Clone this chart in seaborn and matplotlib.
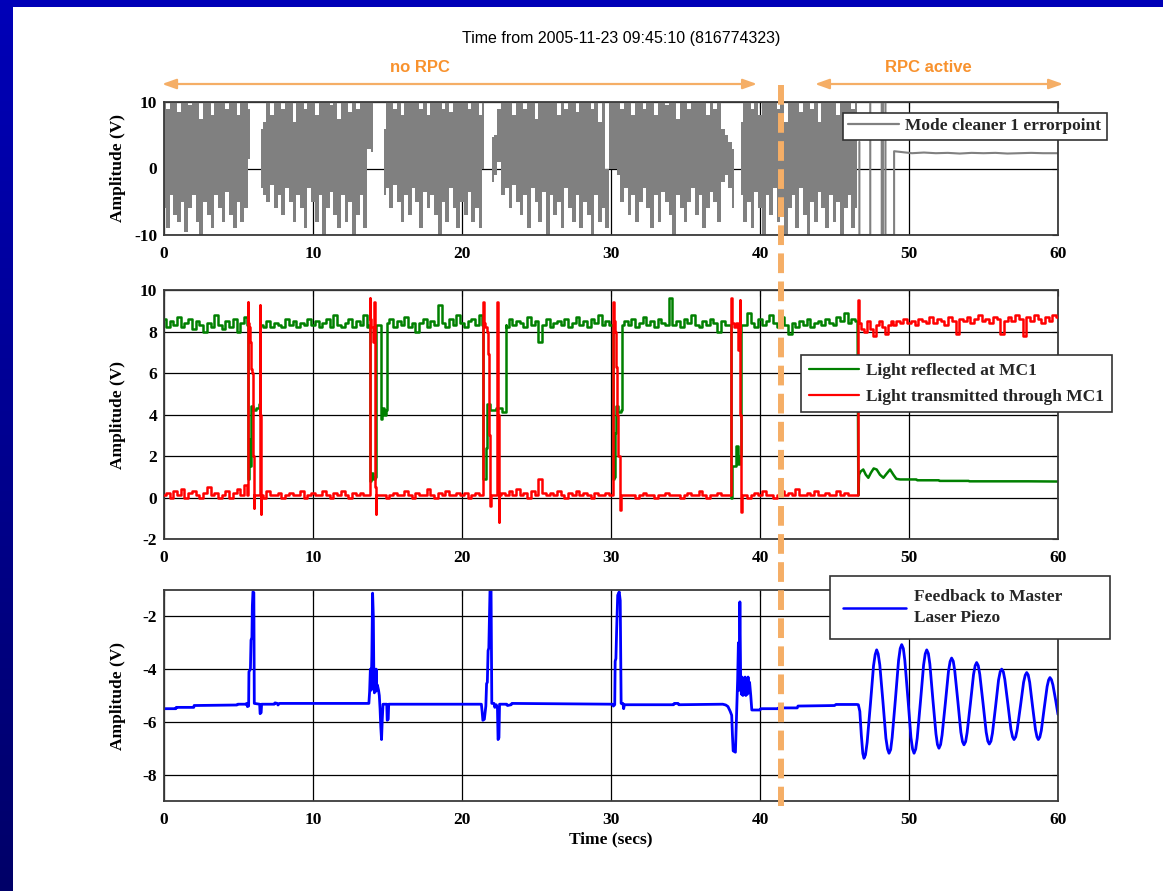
import numpy as np
import matplotlib
matplotlib.use("Agg")
import matplotlib.pyplot as plt
import seaborn as sns
from matplotlib.lines import Line2D
from matplotlib.patches import Rectangle
from matplotlib.colors import LinearSegmentedColormap
from matplotlib.transforms import blended_transform_factory

nan = np.nan

# ---------------------------------------------------------------- data
time_ticks = [0, 10, 20, 30, 40, 50, 60]
top_yticks = [-10, 0, 10]
mid_yticks = [-2, 0, 2, 4, 6, 8, 10]
bot_yticks = [-8, -6, -4, -2]

title_text = "Time from 2005-11-23 09:45:10 (816774323)"
label_mc = "Mode cleaner 1 errorpoint"
label_refl = "Light reflected at MC1"
label_trans = "Light transmitted through MC1"
label_fb = "Feedback to Master\nLaser Piezo"

# Mode-cleaner error point: upper / lower envelope every 0.25 s, 0 .. 46.5 s
sample_step = 0.25
mc_hi = [10, 9, 10, 10, 8.5, 10, 10, 9.5, 10, 10, 7.5, 10, 10, 8, 10, 10,
         10, 9, 10, 10, 8, 10, 10, 9, nan, nan, 6, 7, 10, 8, 10, 10,
         9, 10, 10, 7, 10, 10, 9, 10, 10, 8, 10, 10, 10, 9.5, 10, 7.5,
         10, 10, 8.5, 10, 9, 10, 10, 10, 10, nan, nan, 6, 10, 10, 9, 10,
         8, 10, 10, 10, 10, 9, 10, 8, 10, 10, 10, 9, 10, 8.5, 10, 10,
         10, 10, 9, 10, 10, 8, 10, nan, 4.8, 5, 9, 10, 10, 10, 8, 10,
         10, 9, 10, 10, 7.5, 10, 10, 10, 10, 10, 8, 10, 9, 10, 10, 8.5,
         10, 10, 10, 9, 10, 7, 10, 0, 10, 10, 10, 9, 10, 10, 8, 10,
         10, 9, 10, 10, 8, 10, 10, 9.5, 10, 10, 7.5, 10, 10, 9, 10, 10,
         10, 10, 8, 10, 9, 10, 6, 5, 4, 3, nan, 7, 10, 10, 9, 10,
         8, 10, 10, 10, 10, 9, 10, 7, 10, 10, 10, 8.5, 10, 10, 9, 10,
         7, 10, 10, 10, 10, 8, 10, 10, 10, 9, 10]
mc_lo = [-6, -9, -4, -7, -8, -5, -9.5, -6, -4, -8, -10, -5, -7, -9, -4, -6,
         -8, -3.5, -7, -9, -5, -8, -6, 1.5, nan, nan, -3, -4, -5, -2.5, -6, -4,
         -7, -3, -5, -8, -4, -6, -9, -3, -5, -8, -4, -10, -6, -3.5, -7, -9,
         -4, -8, -5, -10, -7, -4, -9, 3, 2.5, nan, nan, -4, -3, -6, -2.5, -5,
         -8, -4, -7, -3, -5, -9, -3.5, -6, -4, -7, -10, -5, -8, -3, -6, -9,
         -5, -7, -3.5, -8, -6, -9, 0, nan, -2, -1, 1, -4, -3, -6, -2.5, -5,
         -7, -4, -9, -3, -5, -8, -3.5, -10, -4, -7, -5, -9, -3, -6, -8, -4,
         -9, -5, -7, -10, -4, -8, -6, -9, 0, 0, -1, -5, -3, -7, -4, -8,
         -5, -3, -6, -9, -4, -8, -3.5, -5, -7, -10, -4, -6, -8, -5, -3, -7,
         -4, -9, -6, -3.5, -5, -8, -2, -1, -3, -6, nan, -4, -8, -5, -9, -3.5,
         -6, -10, -4, -7, -3, -8, -5, -10, -6, -4, -9, -3, -7, -10, -5, -8,
         -3.5, -6, -9, -4, -8, -5, -10, -6, -4, -9, -6]
mc_tail_t = [46.67, 46.67, 47.4, 47.4, 48.17, 48.17, 48.25, 48.25, 48.42, 48.42,
             49.0, 49.0, 49.4, 50.2, 51.0, 51.8, 52.6, 53.4, 54.2, 55.0, 55.8,
             56.6, 57.4, 58.2, 59.0, 60.0]
mc_tail_v = [4, -10, -10, 10, 10, -10, -10, 10, 10, -10,
             -10, 2.6, 2.5, 2.3, 2.4, 2.3, 2.35, 2.25, 2.35, 2.3, 2.35,
             2.25, 2.3, 2.35, 2.3, 2.3]

# Reflected light (green): locked-state level every 0.25 s, 0 .. 46.5 s
refl_noise = [8.6, 8.2, 8.5, 8.3, 8.7, 8.2, 8.4, 8.6, 8.1, 8.5, 8.3, 8.0, 8.4, 8.2, 8.8, 8.3,
              8.1, 8.5, 8.2, 8.6, 8.0, 8.4, 8.7, 8.3, 8.3, 8.2, 8.4, 8.2, 8.5, 8.2, 8.4, 8.3,
              8.2, 8.6, 8.3, 8.5, 8.2, 8.4, 8.3, 8.6, 8.3, 8.5, 8.2, 8.4, 8.6, 8.2, 8.8, 8.3,
              8.2, 8.4, 8.6, 8.2, 8.5, 8.3, 8.8, 8.2, 8.3, 8.5, 8.4, 8.2, 8.4, 8.6, 8.2, 8.5,
              8.3, 8.7, 8.2, 8.4, 8.0, 8.4, 8.6, 8.2, 8.5, 8.3, 9.3, 8.4, 8.2, 8.6, 8.3, 8.8,
              8.4, 8.2, 8.5, 8.6, 8.3, 8.8, 8.4, 8.5, 8.3, 8.2, 8.5, 8.4, 8.2, 8.6, 8.3, 8.5,
              8.4, 8.2, 8.7, 8.3, 8.5, 7.5, 8.3, 8.6, 8.2, 8.4, 8.5, 8.3, 8.6, 8.2, 8.4, 8.7,
              8.3, 8.5, 8.2, 8.6, 8.4, 8.8, 8.3, 8.5, 8.3, 8.2, 8.4, 8.3, 8.5, 8.3, 8.6, 8.2,
              8.4, 8.7, 8.3, 8.5, 8.2, 8.6, 8.4, 8.3, 9.6, 8.3, 8.5, 8.2, 8.6, 8.4, 8.8, 8.3,
              8.2, 8.5, 8.3, 8.6, 8.4, 8.0, 8.5, 8.3, 8.3, 8.6, 8.2, 8.4, 8.3, 8.9, 8.4, 8.2,
              8.6, 8.3, 8.5, 8.8, 8.4, 8.2, 8.7, 8.3, 7.9, 8.4, 8.2, 8.5, 8.3, 8.6, 8.2, 8.4,
              8.5, 8.3, 8.6, 8.4, 8.3, 8.7, 8.5, 8.9, 8.4, 8.6, 8.5]
# Transmitted light (red): unlocked-state level every 0.25 s, 0 .. 46.5 s
trans_noise = [0.1, 0.2, 0.0, 0.3, 0.1, 0.4, 0.0, 0.2, 0.3, 0.1, 0.0, 0.2, 0.5, 0.1, 0.2, 0.0,
               0.1, 0.3, 0.0, 0.2, 0.4, 0.1, 0.6, 0.2, 0.1, 0.2, 0.1, 0.0, 0.3, 0.1, 0.1, 0.2,
               0.0, 0.1, 0.2, 0.1, 0.1, 0.3, 0.0, 0.1, 0.2, 0.1, 0.1, 0.3, 0.1, 0.0, 0.2, 0.1,
               0.3, 0.1, 0.0, 0.2, 0.1, 0.2, 0.1, 0.1, 0.1, 0.1, 0.1, 0.1, 0.0, 0.1, 0.2, 0.1,
               0.1, 0.3, 0.1, 0.0, 0.2, 0.1, 0.1, 0.4, 0.1, 0.0, 0.2, 0.1, 0.3, 0.1, 0.1, 0.2,
               0.1, 0.2, 0.0, 0.1, 0.2, 0.1, 0.1, 0.1, 0.1, 0.1, 0.1, 0.2, 0.1, 0.3, 0.1, 0.4,
               0.1, 0.2, 0.0, 0.3, 0.1, 0.9, 0.2, 0.1, 0.2, 0.1, 0.3, 0.1, 0.0, 0.2, 0.1, 0.3,
               0.1, 0.2, 0.1, 0.0, 0.2, 0.1, 0.1, 0.2, 0.1, 0.1, 0.1, 0.1, 0.1, 0.1, 0.1, 0.0,
               0.1, 0.2, 0.1, 0.1, 0.0, 0.1, 0.1, 0.2, 0.1, 0.1, 0.1, 0.0, 0.1, 0.2, 0.1, 0.1,
               0.3, 0.1, 0.0, 0.1, 0.1, 0.2, 0.1, 0.1, 0.1, 0.1, 0.1, 0.1, 0.1, 0.0, 0.1, 0.2,
               0.1, 0.3, 0.1, 0.1, 0.0, 0.1, 0.3, 0.1, 0.2, 0.1, 0.4, 0.1, 0.1, 0.2, 0.1, 0.3,
               0.1, 0.1, 0.2, 0.1, 0.1, 0.3, 0.1, 0.2, 0.1, 0.1, 0.1]
# Transmitted light once RPC is active, every 0.25 s from 49.0 s to 60 s
trans_locked_start = 49.0
trans_locked = [8.3, 8.5, 8.4, 8.6, 8.4, 8.5, 8.3, 8.6, 8.5, 8.4, 8.7, 8.4,
                8.6, 8.5, 8.3, 8.7, 8.5, 7.9, 8.6, 8.5, 8.7, 8.4, 8.6, 8.8,
                8.5, 8.6, 8.4, 8.7, 8.6, 7.9, 8.5, 8.7, 8.5, 8.8, 8.6, 7.8,
                8.7, 8.5, 8.8, 8.6, 8.4, 8.7, 8.5, 8.8, 8.7]

# Unlock events (green = reflected, red = transmitted)
ev1_refl_t = [5.60, 5.63, 5.70, 5.75, 5.80, 5.90, 6.10, 6.30, 6.40, 6.42, 6.55]
ev1_refl_v = [8.3, 1.0, 0.9, 2.8, 1.5, 4.4, 4.2, 4.3, 4.5, 8.3, 8.3]
ev1_trans_t = [5.60, 5.62, 5.66, 5.75, 5.80, 5.88, 5.95, 6.00, 6.04, 6.08, 6.42, 6.44, 6.48, 6.51, 6.55]
ev1_trans_v = [0.1, 9.4, 8.4, 8.2, 7.5, 6.2, 6.0, 2.0, -0.5, 0.1, 0.1, 9.3, 4.0, -0.8, 0.1]

ev2_refl_t = [13.80, 13.83, 13.95, 14.10, 14.20, 14.25, 14.58, 14.61, 14.70, 14.85, 14.94, 14.97]
ev2_refl_v = [8.3, 0.8, 1.2, 0.9, 1.0, 8.3, 8.3, 3.8, 4.3, 4.0, 4.2, 8.3]
ev2_trans_t = [13.80, 13.83, 13.88, 13.95, 14.05, 14.12, 14.17, 14.20, 14.23, 14.27]
ev2_trans_v = [0.1, 9.6, 8.6, 8.2, 7.5, 9.4, 6.0, 0.5, -0.8, 0.1]

ev3_refl_t = [21.40, 21.45, 21.55, 21.62, 21.70, 22.00, 22.50, 22.90, 22.97]
ev3_refl_v = [8.3, 0.9, 0.9, 2.4, 4.5, 4.2, 4.3, 4.1, 8.3]
ev3_trans_t = [21.40, 21.43, 21.50, 21.60, 21.70, 21.78, 21.85, 21.92, 21.97, 22.34, 22.37, 22.42, 22.48, 22.52]
ev3_trans_v = [0.1, 9.4, 8.4, 8.2, 8.0, 6.9, 3.0, -0.4, 0.1, 0.1, 9.4, 4.0, -1.2, 0.1]

ev4_refl_t = [30.13, 30.16, 30.25, 30.32, 30.40, 30.60, 30.75, 30.78]
ev4_refl_v = [8.3, 0.9, 1.0, 3.1, 4.4, 4.1, 4.2, 8.3]
ev4_trans_t = [30.13, 30.16, 30.22, 30.30, 30.38, 30.45, 30.55, 30.62, 30.67]
ev4_trans_v = [0.1, 9.4, 8.5, 8.0, 6.3, 4.0, 2.0, -0.6, 0.1]

ev5_refl_t = [38.07, 38.10, 38.15, 38.30, 38.45, 38.55, 38.70, 38.77]
ev5_refl_v = [8.3, 0.0, 1.5, 1.5, 2.5, 1.6, 2.0, 8.3]
ev5_trans_t = [38.07, 38.10, 38.15, 38.30, 38.50, 38.54, 38.60, 38.66, 38.70, 38.75, 38.80]
ev5_trans_v = [0.1, 9.6, 8.4, 8.2, 8.4, 7.1, 8.0, 9.5, 4.0, -0.7, 0.1]

# RPC switched on
rpc_refl_t = [46.55, 46.60, 46.65, 46.75, 46.93, 47.10, 47.27, 47.45, 47.63, 47.83, 48.05,
              48.28, 48.50, 48.73, 48.95, 49.15, 49.40, 50.50, 50.55, 52.0, 52.05, 54.0,
              54.05, 56.0, 58.0, 60.0]
rpc_refl_v = [8.4, 0.1, 1.1, 1.25, 1.35, 1.1, 0.95, 1.2, 1.4, 1.35, 1.1,
              0.95, 1.15, 1.35, 1.1, 0.9, 0.87, 0.87, 0.83, 0.83, 0.8, 0.8,
              0.78, 0.78, 0.78, 0.77]
rpc_trans_t = [46.55, 46.60, 46.70, 46.90, 47.10, 47.30, 47.50, 47.70, 47.90, 48.10, 48.30, 48.50, 48.70, 48.90]
rpc_trans_v = [0.1, 9.5, 8.4, 8.1, 8.0, 8.5, 8.1, 7.8, 8.3, 8.5, 8.2, 7.9, 8.3, 8.5]

# Feedback to master laser piezo (blue)
fb_t = [0.0, 0.8, 0.82, 2.0, 2.02, 4.9, 4.95,
        5.5, 5.55, 5.60, 5.68, 5.70, 5.80, 5.84, 5.90, 5.93, 5.97, 6.03, 6.06, 6.42, 6.45, 6.52, 6.55,
        7.4, 7.45, 7.6, 7.65, 7.75,
        13.75, 13.80, 13.85, 13.90, 13.95, 14.00, 14.05, 14.08, 14.12, 14.16, 14.20, 14.24, 14.28,
        14.32, 14.40, 14.45, 14.50, 14.55, 14.60, 14.65, 14.70, 14.95, 14.98, 15.05, 15.08,
        21.30, 21.35, 21.40, 21.50, 21.60, 21.65, 21.70, 21.75, 21.80, 21.88, 21.95, 22.00, 22.15,
        22.20, 22.30, 22.38, 22.42, 22.48, 22.52, 23.00, 23.05, 23.30, 23.35,
        30.10, 30.16, 30.25, 30.28, 30.33, 30.38, 30.45, 30.55, 30.62, 30.68, 30.80, 30.85, 30.90,
        34.20, 34.25, 34.50, 34.55,
        37.50, 37.70, 37.85, 38.00, 38.10, 38.15, 38.20, 38.35, 38.42, 38.50, 38.55, 38.60, 38.65,
        38.70, 38.75, 38.80, 38.85, 38.90, 38.95, 39.00, 39.05, 39.10, 39.15, 39.20, 39.25, 39.30,
        39.38, 39.45, 40.00, 40.05, 41.20, 41.25, 42.50, 42.55, 45.00, 45.10, 46.50,
        46.60, 46.70, 46.80, 46.90, 46.98, 47.08, 47.19, 47.41, 47.62, 47.73, 47.83, 47.93, 48.04,
        48.25, 48.45, 48.56, 48.66, 48.77, 48.87, 49.09, 49.30, 49.41, 49.51, 49.62, 49.72,
        49.93, 50.13, 50.24, 50.34, 50.45, 50.55, 50.77, 50.98, 51.09, 51.19, 51.30, 51.40,
        51.60, 51.81, 51.91, 52.01, 52.12, 52.22, 52.44, 52.65, 52.76, 52.86, 52.97, 53.07,
        53.28, 53.48, 53.59, 53.69, 53.80, 53.90, 54.12, 54.33, 54.44, 54.54, 54.65, 54.75,
        54.97, 55.18, 55.29, 55.39, 55.50, 55.60, 55.81, 56.01, 56.12, 56.22, 56.33, 56.43,
        56.64, 56.84, 56.95, 57.05, 57.16, 57.26, 57.48, 57.69, 57.80, 57.90, 58.00, 58.10,
        58.29, 58.49, 58.59, 58.68, 58.78, 58.88, 59.07, 59.27, 59.37, 59.46, 59.56, 59.66,
        59.85, 60.00]
fb_v = [-5.5, -5.5, -5.45, -5.45, -5.38, -5.36, -5.33,
        -5.33, -5.3, -5.42, -5.4, -4.1, -4.0, -2.9, -2.8, -1.6, -1.07, -1.1, -5.3, -5.33, -5.69, -5.65, -5.33,
        -5.33, -5.28, -5.3, -5.36, -5.3,
        -5.3, -4.85, -4.0, -4.8, -3.5, -1.12, -2.0, -4.0, -4.9, -4.0, -4.85, -4.0, -4.8,
        -4.6, -4.8, -5.0, -5.5, -6.2, -6.67, -5.9, -5.33, -5.33, -5.94, -5.9, -5.33,
        -5.33, -5.6, -5.94, -5.9, -5.4, -4.55, -4.5, -3.3, -3.2, -1.0, -1.0, -5.3, -5.3,
        -5.45, -5.35, -5.5, -6.67, -6.6, -5.33, -5.33, -5.38, -5.35, -5.3,
        -5.33, -5.4, -5.35, -3.7, -3.6, -2.5, -1.2, -1.07, -1.4, -5.3, -5.3, -5.5, -5.35,
        -5.35, -5.3, -5.3, -5.35,
        -5.33, -5.36, -5.42, -5.6, -5.75, -6.5, -7.1, -7.15, -5.8, -4.4, -3.0, -4.8, -1.45,
        -4.3, -4.95, -4.3, -5.0, -4.35, -4.95, -4.3, -5.0, -4.35, -4.95, -4.3, -4.9, -4.5,
        -5.0, -5.55, -5.55, -5.5, -5.5, -5.47, -5.47, -5.4, -5.38, -5.34, -5.34,
        -5.35, -5.6, -6.5, -7.2, -7.38, -7.25, -6.78, -5.33, -3.87, -3.45, -3.27, -3.42, -3.84,
        -5.23, -6.62, -7.03, -7.19, -7.05, -6.59, -5.13, -3.67, -3.22, -3.07, -3.22, -3.67,
        -5.13, -6.59, -7.03, -7.19, -7.03, -6.62, -5.23, -3.84, -3.42, -3.27, -3.41, -3.81,
        -5.14, -6.46, -6.86, -7.0, -6.86, -6.5, -5.29, -4.08, -3.71, -3.58, -3.70, -4.06,
        -5.23, -6.39, -6.75, -6.87, -6.75, -6.41, -5.31, -4.21, -3.87, -3.75, -3.87, -4.2,
        -5.3, -6.39, -6.73, -6.84, -6.73, -6.43, -5.42, -4.41, -4.1, -4.0, -4.1, -4.39,
        -5.34, -6.28, -6.57, -6.67, -6.57, -6.3, -5.4, -4.5, -4.23, -4.13, -4.22, -4.5,
        -5.4, -6.3, -6.57, -6.67, -6.58, -6.33, -5.5, -4.66, -4.41, -4.32, -4.4, -4.6,
        -5.2, -5.72]

rpc_switch_t = 41.41          # dashed marker
no_rpc_span = (-0.13, 39.8)   # arrow spans (s)
rpc_span = (43.69, 60.34)

# ---------------------------------------------------------------- helpers
def merge_series(noise_t, noise_v, events):
    pts = list(zip(noise_t, noise_v))
    for et, ev in events:
        lo, hi = min(et), max(et)
        pts = [p for p in pts if not (lo <= p[0] <= hi)]
        pts += list(zip(et, ev))
    pts.sort(key=lambda p: p[0])
    return [p[0] for p in pts], [p[1] for p in pts]


W, H = 1163, 891
def fx(px):
    return px / W
def fy(py):
    return 1 - py / H

sns.set_theme(style="white")
plt.rcParams["font.family"] = ["Liberation Serif", "DejaVu Serif"]
plt.rcParams["axes.unicode_minus"] = False

GRAY = "#808080"
GREEN = "#008000"
RED = "#FF0000"
BLUE = "#0000FF"
ORANGE_LINE = "#F5AE66"
ORANGE_TEXT = "#F8922E"
SERIF_B = dict(family="Liberation Serif", weight="bold", size=12.5)

fig = plt.figure(figsize=(W / 100, H / 100), dpi=100)

# slide background: blue gradient frame + white page
bg = fig.add_axes([0, 0, 1, 1], zorder=-10)
grad = np.linspace(0, 1, 256).reshape(-1, 1)
bg.imshow(grad, aspect="auto", extent=[0, 1, 0, 1], origin="upper",
          cmap=LinearSegmentedColormap.from_list("slide", ["#0000B8", "#000068"]))
bg.set_axis_off()
fig.add_artist(Rectangle((fx(13), 0), 1 - fx(13), fy(7), transform=fig.transFigure,
                         facecolor="white", edgecolor="none", zorder=-5))

axw = fx(1058) - fx(164)
ax_top = fig.add_axes([fx(164), fy(235), axw, (235 - 102) / H])
ax_mid = fig.add_axes([fx(164), fy(539), axw, (539 - 290) / H])
ax_bot = fig.add_axes([fx(164), fy(801), axw, (801 - 590) / H])


def style(ax, ylim, yticks):
    ax.set_facecolor("white")
    ax.set_xlim(0, 60)
    ax.set_ylim(*ylim)
    ax.set_xticks(time_ticks)
    ax.set_yticks(yticks)
    ax.grid(True, color="black", lw=0.9)
    ax.set_axisbelow(True)
    ax.tick_params(direction="in", length=4, width=0.8, top=True, right=True,
                   labelsize=12.5, colors="black")
    ax.tick_params(axis="x", pad=8)
    ax.tick_params(axis="y", pad=5)
    for lab in ax.get_xticklabels() + ax.get_yticklabels():
        lab.set_fontweight("bold")
        lab.set_family("Liberation Serif")
    for s in ax.spines.values():
        s.set_visible(True)
        s.set_color("#3a3a3a")
        s.set_linewidth(1.3)
    ax.set_ylabel("Amplitude (V)", fontdict=SERIF_B, color="black")
    ax.yaxis.set_label_coords((126 - 164) / 894, 0.5)
    ax.set_xlabel("")


# ---------------- top panel
mc_t = np.arange(len(mc_hi)) * sample_step
ax_top.fill_between(mc_t, np.array(mc_lo, float), np.array(mc_hi, float),
                    step="mid", color=GRAY, lw=0, zorder=2)
sns.lineplot(x=mc_tail_t, y=mc_tail_v, ax=ax_top, color=GRAY, lw=1.5,
             sort=False, estimator=None, legend=False, zorder=2)
style(ax_top, (-10, 10), top_yticks)

# ---------------- middle panel
noise_t = list(np.arange(len(refl_noise)) * sample_step)
rt, rv = merge_series(noise_t, refl_noise,
                      [(ev1_refl_t, ev1_refl_v), (ev2_refl_t, ev2_refl_v),
                       (ev3_refl_t, ev3_refl_v), (ev4_refl_t, ev4_refl_v),
                       (ev5_refl_t, ev5_refl_v)])
lock_t = list(trans_locked_start + np.arange(len(trans_locked)) * sample_step)
tt, tv = merge_series(noise_t + lock_t, trans_noise + trans_locked,
                      [(ev1_trans_t, ev1_trans_v), (ev2_trans_t, ev2_trans_v),
                       (ev3_trans_t, ev3_trans_v), (ev4_trans_t, ev4_trans_v),
                       (ev5_trans_t, ev5_trans_v), (rpc_trans_t, rpc_trans_v)])
sns.lineplot(x=rt, y=rv, ax=ax_mid, color=GREEN, lw=1.8, sort=False,
             estimator=None, legend=False, drawstyle="steps-mid", zorder=2)
sns.lineplot(x=rpc_refl_t, y=rpc_refl_v, ax=ax_mid, color=GREEN, lw=1.8, sort=False,
             estimator=None, legend=False, zorder=2)
sns.lineplot(x=tt, y=tv, ax=ax_mid, color=RED, lw=1.8, sort=False,
             estimator=None, legend=False, drawstyle="steps-mid", zorder=3)
style(ax_mid, (-2, 10), mid_yticks)

# ---------------- bottom panel
sns.lineplot(x=fb_t, y=fb_v, ax=ax_bot, color=BLUE, lw=2.0, sort=False,
             estimator=None, legend=False, zorder=2)
style(ax_bot, (-9, -1), bot_yticks)
ax_bot.set_xlabel("Time (secs)", fontdict=SERIF_B, color="black")
ax_bot.xaxis.set_label_coords(0.5, -(839 - 801) / 211)
ax_bot.xaxis.label.set_va("center")

# ---------------- legends
def legend(ax, handles, labels, x0, y0, **kw):
    lg = ax.legend(handles=handles, labels=labels, loc="upper left",
                   bbox_to_anchor=(fx(x0), fy(y0)), bbox_transform=fig.transFigure,
                   borderaxespad=0, frameon=True, fancybox=False, framealpha=1,
                   edgecolor="#333333", facecolor="white", prop=SERIF_B, **kw)
    lg.get_frame().set_linewidth(1.2)
    lg.set_zorder(20)
    return lg

legend(ax_top, [Line2D([], [], color=GRAY, lw=1.6)], [label_mc], 843, 113,
       borderpad=0.3, handlelength=2.9, handletextpad=0.4)
legend(ax_mid, [Line2D([], [], color=GREEN, lw=1.6), Line2D([], [], color=RED, lw=1.6)],
       [label_refl, label_trans], 801, 355,
       borderpad=0.45, handlelength=2.9, handletextpad=0.4, labelspacing=0.55)
lg_fb = legend(ax_bot, [Line2D([], [], color=BLUE, lw=1.8)],
               [label_fb.replace("Master", "Master" + "\u00a0" * 8)], 830, 576,
               borderpad=0.75, handlelength=3.6, handletextpad=0.5)
lg_fb.get_texts()[0].set_linespacing(1.45)

# ---------------- annotations
fig.text(fx(621), fy(38), title_text, ha="center", va="center",
         family="Liberation Sans", fontsize=11.5, color="black")
fig.text(fx(420), fy(68), "no RPC", ha="center", va="center",
         family="Liberation Sans", fontweight="bold", fontsize=12, color=ORANGE_TEXT)
fig.text(fx(928), fy(68), "RPC active", ha="center", va="center",
         family="Liberation Sans", fontweight="bold", fontsize=12, color=ORANGE_TEXT)

trans_top = blended_transform_factory(ax_top.transData, fig.transFigure)
for a, b in (no_rpc_span, rpc_span):
    ax_top.annotate("", xy=(a, fy(84)), xytext=(b, fy(84)), xycoords=trans_top,
                    textcoords=trans_top, annotation_clip=False,
                    arrowprops=dict(arrowstyle="<|-|>,head_length=0.7,head_width=0.25",
                                    color=ORANGE_LINE, lw=1.6, shrinkA=0, shrinkB=0))

fig.add_artist(Line2D([rpc_switch_t, rpc_switch_t], [fy(85), fy(806)],
                      transform=blended_transform_factory(ax_bot.transData, fig.transFigure),
                      color=ORANGE_LINE, lw=4.3, dashes=(3.3, 1.4), zorder=15))

fig.savefig("out.png", dpi=100)
